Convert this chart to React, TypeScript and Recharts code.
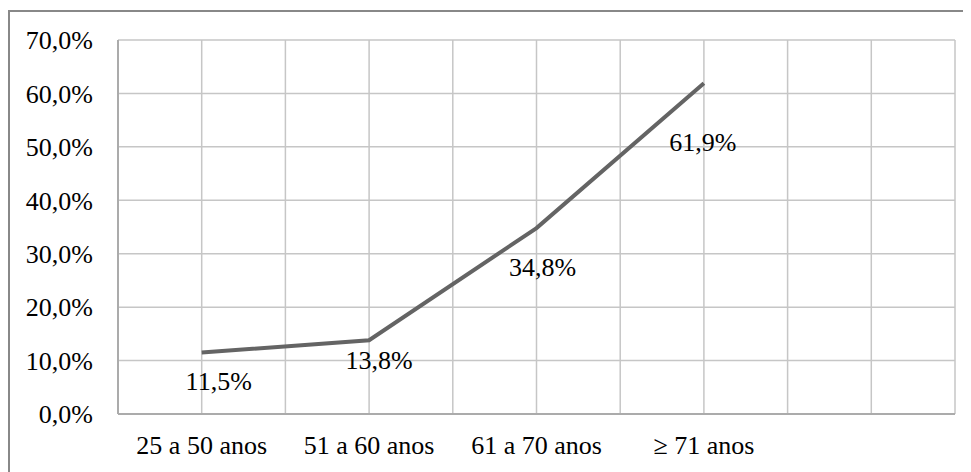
import React from "react"
import { LineChart, Line, XAxis, YAxis, CartesianGrid, LabelList } from "recharts"

const categories = ["25 a 50 anos", "51 a 60 anos", "61 a 70 anos", "≥ 71 anos", ""]
const values: (number | null)[] = [11.5, 13.8, 34.8, 61.9, null]
const yTicks = [0, 10, 20, 30, 40, 50, 60, 70]

const data = categories.map((name, i) => ({ name, valor: values[i] }))

const FONT = "'Liberation Serif', 'Times New Roman', serif"
const GRID = "#c6c6c6"
const AXIS = "#ababab"

// hand placed labels, like in the original (offsets from each point)
const labelShift = [
  { dx: 17, dy: 37 },
  { dx: 10, dy: 29 },
  { dx: 6, dy: 48 },
  { dx: -1, dy: 68 },
]

const fmt = (v: number) => `${v.toFixed(1).replace(".", ",")}%`

function PointLabel(props: any) {
  const { x, y, value, index } = props
  if (value == null) return null
  const s = labelShift[index] || { dx: 0, dy: 30 }
  return (
    <text x={x + s.dx} y={y + s.dy} textAnchor="middle" fontFamily={FONT} fontSize={26} fill="#000">
      {fmt(value)}
    </text>
  )
}

export default function App() {
  return (
    <div style={{ position: "relative", width: 963, height: 464, overflow: "hidden" }}>
      <div
        style={{
          position: "absolute",
          left: 0,
          top: 2,
          width: 1000,
          height: 520,
          border: "2px solid #888",
          boxSizing: "border-box",
        }}
      />
      <div style={{ position: "absolute", left: 0, top: 0 }}>
        <LineChart width={963} height={464} data={data} margin={{ top: 32, right: 16, left: 0, bottom: 0 }}>
          <CartesianGrid
            stroke={GRID}
            strokeWidth={1.5}
            verticalCoordinatesGenerator={({ offset }: any) =>
              Array.from({ length: 11 }, (_, i) => offset.left + (offset.width * i) / 10)
            }
          />
          <XAxis
            dataKey="name"
            scale="band"
            axisLine={{ stroke: AXIS, strokeWidth: 2 }}
            tickLine={false}
            interval={0}
            height={58}
            tickMargin={16}
            tick={{ fontSize: 26, fontFamily: FONT, fill: "#000" }}
          />
          <YAxis
            domain={[0, 70]}
            ticks={yTicks}
            width={110}
            axisLine={{ stroke: AXIS, strokeWidth: 2 }}
            tickLine={false}
            tickMargin={19}
            tickFormatter={fmt}
            tick={{ fontSize: 26, fontFamily: FONT, fill: "#000" }}
          />
          <Line
            type="linear"
            dataKey="valor"
            stroke="#646464"
            strokeWidth={4}
            dot={false}
            activeDot={false}
            isAnimationActive={false}
          >
            <LabelList dataKey="valor" content={<PointLabel />} />
          </Line>
        </LineChart>
      </div>
    </div>
  )
}
